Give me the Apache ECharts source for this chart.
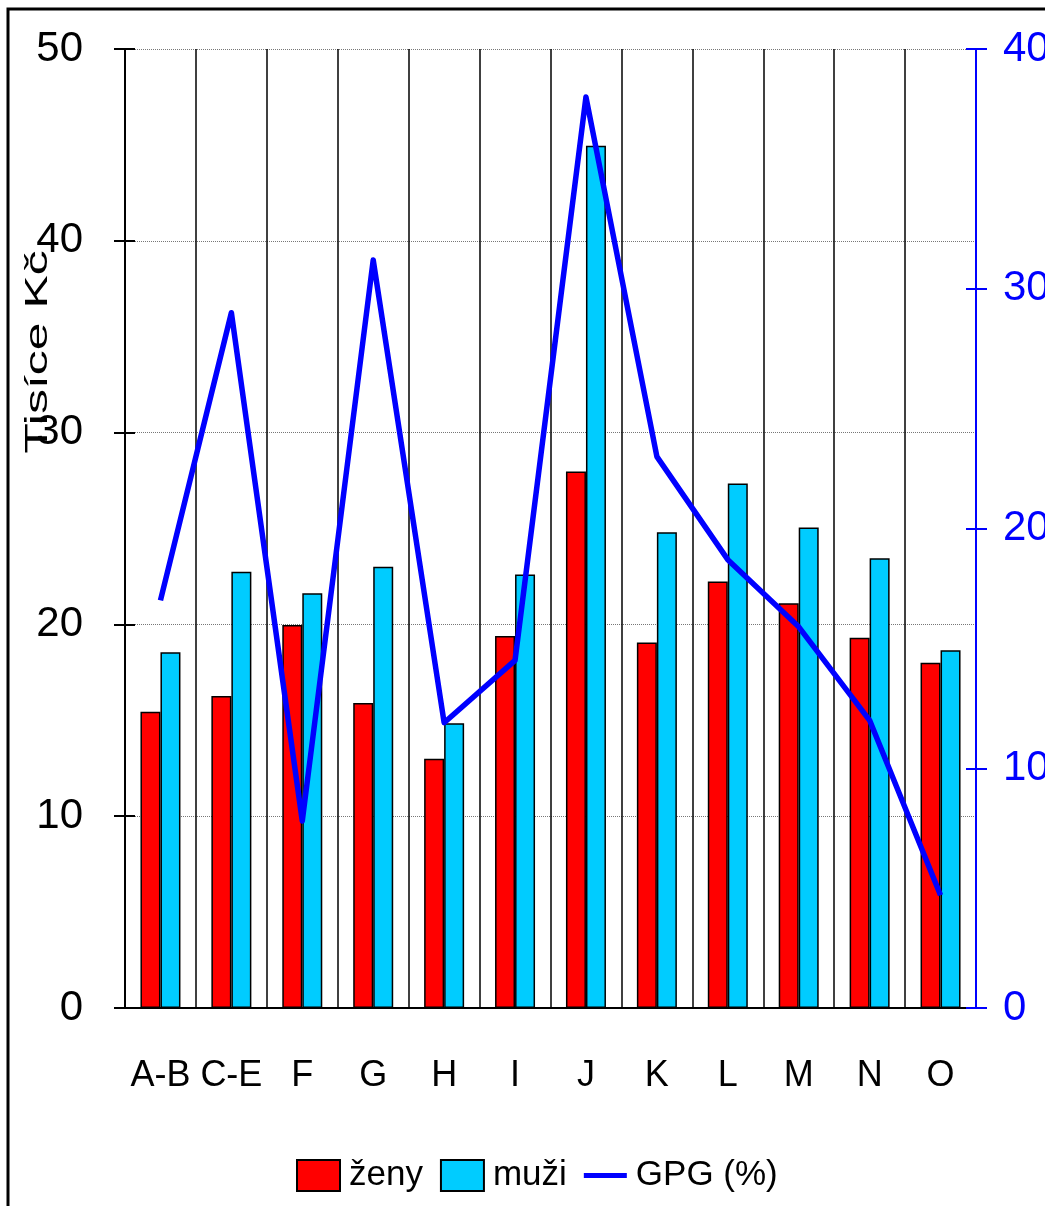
<!DOCTYPE html>
<html>
<head>
<meta charset="utf-8">
<script src="https://cdn.jsdelivr.net/npm/echarts@6/dist/echarts.min.js"></script>
<style>
  html, body { margin: 0; padding: 0; background: #fff; }
  #chart { width: 1045px; height: 1206px; }
</style>
</head>
<body>
<div id="chart"></div>
<script>
// mzdy podle odvětví
var categories = ['A-B', 'C-E', 'F', 'G', 'H', 'I', 'J', 'K', 'L', 'M', 'N', 'O'];
var zeny = [15.45, 16.27, 19.97, 15.9, 13.0, 19.4, 27.97, 19.06, 22.24, 21.1, 19.3, 18.0];
var muzi = [18.55, 22.75, 21.62, 23.0, 14.85, 22.6, 44.95, 24.8, 27.35, 25.05, 23.45, 18.65];
var gpg = [17.0, 29.0, 7.8, 31.2, 11.9, 14.5, 38.0, 23.0, 18.7, 15.9, 12.0, 4.7];
var leftTicks = [0, 10, 20, 30, 40, 50];
var rightTicks = [0, 10, 20, 30, 40];

var font = "'Liberation Sans', Arial, sans-serif";
var blue = '#0000ff';
// tlustá čára do legendy (rohové body drží rozměr ikony)
var lineIcon = 'path://M0,0L0.01,0M0,13L43,13L43,18L0,18ZM43,31L42.99,31';

var myChart = echarts.init(document.getElementById('chart'));
myChart.setOption({
    animation: false,
    backgroundColor: '#fff',
    grid: { left: 125, right: 69, top: 49, bottom: 198, outerBoundsMode: 'none' },
    legend: {
        left: 296,
        top: 1158,
        padding: 0,
        itemWidth: 43,
        itemHeight: 31,
        itemGap: 17,
        textStyle: { fontSize: 35, fontFamily: font, color: '#000', padding: [0, 0, 0, 4] },
        data: [
            { name: 'ženy', icon: 'rect' },
            { name: 'muži', icon: 'rect' },
            { name: 'GPG (%)', icon: lineIcon }
        ]
    },
    xAxis: {
        type: 'category',
        data: categories,
        axisLine: { lineStyle: { color: '#000', width: 2 } },
        axisTick: { length: 14, lineStyle: { color: '#000', width: 1.5 } },
        splitLine: { show: true, lineStyle: { color: '#000', width: 1.5 } },
        axisLabel: { interval: 0, margin: 50, fontSize: 36, fontFamily: font, color: '#000' }
    },
    yAxis: [
        {
            type: 'value', position: 'left', min: leftTicks[0], max: leftTicks[leftTicks.length - 1], interval: 10,
            axisLine: { show: true, lineStyle: { color: '#000', width: 2 } },
            axisTick: { show: true, length: 11, lineStyle: { color: '#000', width: 2 } },
            axisLabel: { margin: 42, fontSize: 42, fontFamily: font, color: '#000' },
            splitLine: { show: true, lineStyle: { color: '#777', width: 1, type: 'dotted' } }
        },
        {
            type: 'value', position: 'right', min: rightTicks[0], max: rightTicks[rightTicks.length - 1], interval: 10,
            axisLine: { show: true, lineStyle: { color: blue, width: 2 } },
            axisTick: { show: true, length: 11, lineStyle: { color: blue, width: 2 } },
            axisLabel: { margin: 27, fontSize: 42, fontFamily: font, color: blue },
            splitLine: { show: false }
        },
        {
            // vnitřní část značek levé osy
            type: 'value', position: 'left', min: 0, max: 50, interval: 10,
            axisLine: { show: false },
            axisTick: { show: true, inside: true, length: 10, lineStyle: { color: '#000', width: 2 } },
            axisLabel: { show: false },
            splitLine: { show: false }
        },
        {
            type: 'value', position: 'right', min: 0, max: 40, interval: 10,
            axisLine: { show: false },
            axisTick: { show: true, inside: true, length: 10, lineStyle: { color: blue, width: 2 } },
            axisLabel: { show: false },
            splitLine: { show: false }
        }
    ],
    series: [
        {
            name: 'ženy', type: 'bar', data: zeny, yAxisIndex: 0,
            barWidth: 20, barGap: '0%',
            itemStyle: { color: '#ff0000', borderColor: '#000', borderWidth: 1.5 }
        },
        {
            name: 'muži', type: 'bar', data: muzi, yAxisIndex: 0,
            barWidth: 20, barGap: '0%',
            itemStyle: { color: '#00ccff', borderColor: '#000', borderWidth: 1.5 }
        },
        {
            name: 'GPG (%)', type: 'line', data: gpg, yAxisIndex: 1,
            symbol: 'none', z: 5,
            lineStyle: { color: blue, width: 5.5, join: 'round' },
            itemStyle: { color: blue }
        }
    ],
    graphic: [
        {
            type: 'rect', shape: { x: 8, y: 9, width: 1200, height: 1400 },
            style: { fill: 'none', stroke: '#000', lineWidth: 3 }, silent: true
        },
        {
            type: 'text', x: 38, y: 352, rotation: Math.PI / 2, scaleY: 0.62,
            style: {
                text: 'Tisíce Kč', font: '50px "Liberation Sans", Arial, sans-serif',
                fill: '#000', align: 'center', verticalAlign: 'middle'
            }
        }
    ]
});
</script>
</body>
</html>
